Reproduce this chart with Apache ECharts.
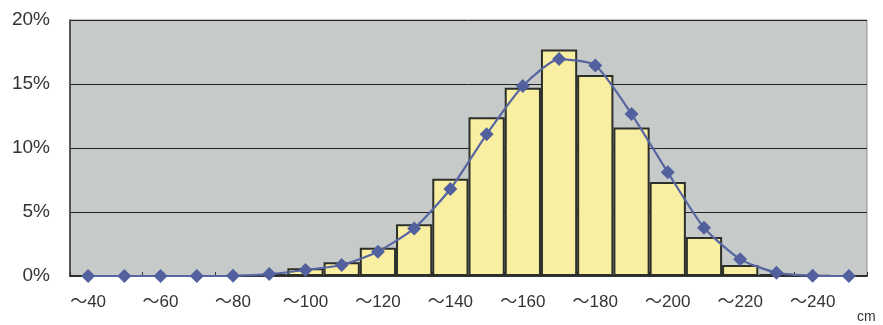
<!DOCTYPE html>
<html><head><meta charset="utf-8">
<script src="https://cdn.jsdelivr.net/npm/echarts@6/dist/echarts.min.js"></script>
<style>html,body{margin:0;padding:0;background:#fff}#c{width:883px;height:325px}</style>
</head><body><div id="c"></div>
<script>
const categories = ['～40','～50','～60','～70','～80','～90','～100','～110','～120','～130','～140','～150','～160','～170','～180','～190','～200','～210','～220','～230','～240','～250'];
const barValues = [0,0,0,0,0,0.15,0.6,1.07,2.2,4.05,7.6,12.4,14.7,17.7,15.7,11.6,7.35,3.05,0.85,0.15,0.05,0];
const lineValues = [0,0,0,0,0.02,0.15,0.47,0.86,1.9,3.72,6.8,11.07,14.85,16.95,16.45,12.65,8.1,3.77,1.3,0.26,0.02,0];
const yTicks = [0,5,10,15,20];

const FONT = '"Liberation Sans", "Noto Sans CJK JP", sans-serif';
const chart = echarts.init(document.getElementById('c'), null, {renderer:'canvas'});
chart.setOption({
  animation:false,
  backgroundColor:'#ffffff',
  grid:{left:70,right:16,top:20,bottom:49,show:true,backgroundColor:'#c6cbc9',borderColor:'#8a8f8d',borderWidth:1},
  xAxis:{
    type:'category', data:categories, boundaryGap:true,
    axisLine:{lineStyle:{color:'#333',width:2}},
    axisTick:{show:true,inside:true,length:4,lineStyle:{color:'#333',width:1}},
    axisLabel:{interval:1,color:'#333',fontSize:17,fontFamily:FONT,margin:18},
    splitLine:{show:false}
  },
  yAxis:{
    type:'value', min:yTicks[0], max:yTicks[yTicks.length-1], interval:5,
    axisLine:{show:true,lineStyle:{color:'#333',width:1.5}},
    axisTick:{show:false},
    axisLabel:{formatter:'{value}%',color:'#333',fontSize:19,fontFamily:FONT,margin:20},
    splitLine:{show:true,lineStyle:{color:'#222',width:1}}
  },
  graphic:[{type:'text',left:857,top:310,style:{text:'cm',fontSize:14,fontFamily:FONT,fill:'#333'}}],
  series:[
    {type:'bar',data:barValues,barCategoryGap:'0%',barWidth:'100%',
     itemStyle:{color:'#f9efa3',borderColor:'#2c2f2a',borderWidth:2}},
    {type:'line',data:lineValues,smooth:0.2,symbol:'diamond',symbolSize:14,
     lineStyle:{color:'#5866a2',width:2.2},itemStyle:{color:'#52609e'},z:5}
  ]
});
</script></body></html>
